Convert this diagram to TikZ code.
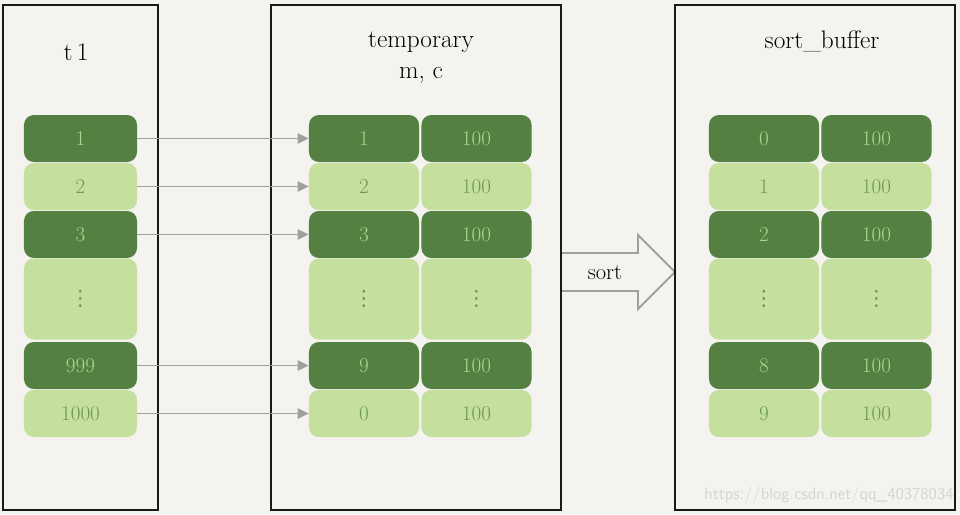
\documentclass[tikz,border=0pt]{standalone}
\usepackage{fontspec}
\usetikzlibrary{arrows.meta}
\newfontfamily\dotsfont{DejaVu Sans}

\definecolor{paper}{RGB}{244,243,239}
\definecolor{celldark}{RGB}{84,128,65}
\definecolor{celllight}{RGB}{197,224,158}
\definecolor{inklight}{RGB}{170,214,140}
\definecolor{inkdark}{RGB}{108,152,84}
\definecolor{linkgray}{RGB}{160,160,160}
\definecolor{markgray}{RGB}{212,212,212}

\newcommand{\skipdots}{{\dotsfont ⋮}}

\tikzset{
    panel/.style={draw=black!90, line width=1.5pt},
    title/.style={font=\fontsize{18}{22}\selectfont, align=center},
    cell/.style={rounded corners=7pt, inner sep=0pt, font=\fontsize{15}{17}\selectfont},
    darkcell/.style={cell, fill=celldark, text=inklight},
    lightcell/.style={cell, fill=celllight, text=inkdark},
    link/.style={draw=linkgray, line width=1.4pt, -{Triangle[length=0.28cm,width=0.26cm]}},
}

\begin{document}
\begin{tikzpicture}[x=0.025cm,y=-0.025cm]
        % Background
        \fill[paper] (0,0) rectangle (960,514);
        \useasboundingbox (0,0) rectangle (960,514);

        % Sort arrow
        \draw[linkgray, line width=1.4pt, fill=paper] (561,253) -- (638,253) -- (638,235) -- (675,272)
            -- (638,309) -- (638,291) -- (561,291);
        \node (sort) at (605,273) {\fontsize{16}{18}\selectfont sort};

        % Panels
        \draw[panel] (3,5) rectangle (158,510);
        \draw[panel] (271,5) rectangle (561,510);
        \draw[panel] (675,5) rectangle (955,510);

        % Titles
        \node[title] (t1) at (76,52) {t\,1};
        \node[title] (temp) at (421,58) {temporary\\m, c};
        \node[title] (buf) at (822,41) {sort\_buffer};

        % Rows
        \foreach \y/\h/\kind/\a/\b/\c [count=\i] in {138.5/47/darkcell/1/1/0, 186.5/47/lightcell/2/2/1,
            234.5/47/darkcell/3/3/2, 299/81/lightcell/\skipdots/\skipdots/\skipdots,
            365.5/47/darkcell/999/9/8, 413.5/47/lightcell/1000/0/9}
            {
                \node[\kind, minimum width=2.825cm, minimum height=\h*0.025cm] (a\i) at (80.5,\y) {\a};
                \node[\kind, minimum width=2.75cm, minimum height=\h*0.025cm] (b\i) at (364,\y) {\b};
                \node[\kind, minimum width=2.75cm, minimum height=\h*0.025cm] (bv\i) at (476.5,\y)
                    {\ifnum\i=4 \skipdots\else 100\fi};
                \node[\kind, minimum width=2.75cm, minimum height=\h*0.025cm] (c\i) at (764,\y) {\c};
                \node[\kind, minimum width=2.75cm, minimum height=\h*0.025cm] (cv\i) at (876.5,\y)
                    {\ifnum\i=4 \skipdots\else 100\fi};
            }

        % Copy into temporary
        \foreach \i in {1,2,3,5,6}
            {
                \draw[link] (a\i.east) -- (b\i.west);
            }

        % Watermark
        \node[text=markgray, font=\sffamily\fontsize{12}{14}\selectfont] (mark) at (829,495)
            {https://blog.csdn.net/qq\_40378034};
    \end{tikzpicture}
\end{document}
